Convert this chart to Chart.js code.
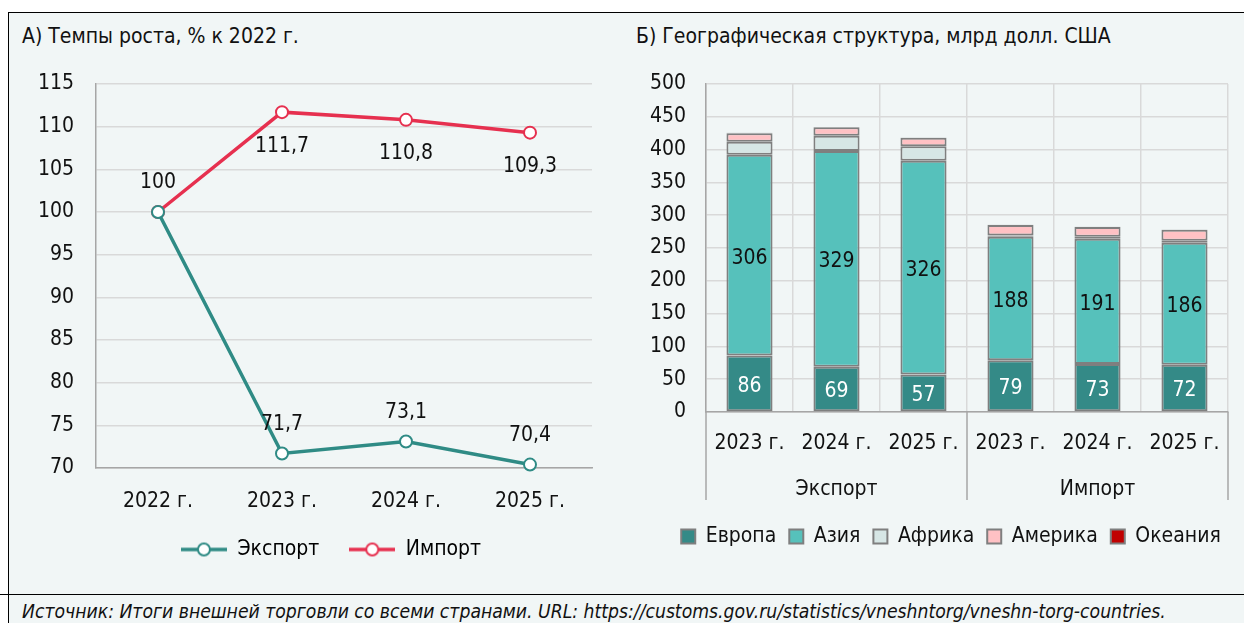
<!DOCTYPE html>
<html lang="ru">
<head>
<meta charset="utf-8">
<script src="https://cdn.jsdelivr.net/npm/chart.js@4.4.1/dist/chart.umd.min.js"></script>
<style>
  body { margin: 0; width: 1244px; height: 623px; overflow: hidden; background: #fff;
         font-family: 'Liberation Sans Narrow', 'Arial Narrow', 'DejaVu Sans Condensed', sans-serif; color: #111; }
  #frame { position: absolute; left: 8px; top: 12px; width: 1236px; height: 611px;
           border-top: 1px solid #000; border-left: 1px solid #000; background: #f1f6f6; }
  .title { position: absolute; top: 11px; font-size: 21px; white-space: nowrap; }
  #src { position: absolute; left: -9px; top: 581px; width: 1245px; height: 40px; border-top: 1px solid #000; }
  #src span { position: absolute; left: 22px; top: 5px; font-size: 19.2px; font-style: italic; white-space: nowrap; }
  canvas { position: absolute; }
</style>
</head>
<body>
<div id="frame">
  <div class="title" style="left:13px">А) Темпы роста, % к 2022 г.</div>
  <div class="title" style="left:627px">Б) Географическая структура, млрд долл. США</div>
  <div id="src"><span>Источник: Итоги внешней торговли со всеми странами. URL: https://customs.gov.ru/statistics/vneshntorg/vneshn-torg-countries.</span></div>
</div>
<canvas id="growthChart" width="600" height="530" style="left:10px;top:60px"></canvas>
<canvas id="geoChart" width="634" height="530" style="left:610px;top:60px"></canvas>
<script>
// А) темпы роста
const years = ["2022 г.", "2023 г.", "2024 г.", "2025 г."];
const exportGrowth = [100, 71.7, 73.1, 70.4];
const importGrowth = [100, 111.7, 110.8, 109.3];

// Б) географическая структура
const barYears = ["2023 г.", "2024 г.", "2025 г.", "2023 г.", "2024 г.", "2025 г."];
const flowGroups = ["Экспорт", "Импорт"];
const europe = [86, 69, 57, 79, 73, 72];
const asia = [306, 329, 326, 188, 191, 186];
const africa = [20, 23, 22, 2, 3, 3];
const america = [13, 13, 13, 16, 15, 17];
const oceania = [0.5, 0.5, 0.5, 0.3, 0.3, 0.3];

const FONT = "'Liberation Sans Narrow', 'Arial Narrow', 'DejaVu Sans Condensed', sans-serif";
Chart.defaults.font.family = FONT;
Chart.defaults.font.size = 21;
Chart.defaults.color = "#111";

const TEAL = "#2f8b85";
const RED = "#e6304f";
const GRID = "#d9d9d9";
const AXIS = "#a6a6a6";

const fmt = (v) => String(v).replace(".", ",");

// legend marker: line with hollow circle
function lineMarker(color) {
  const c = document.createElement("canvas");
  c.width = 46; c.height = 16;
  const g = c.getContext("2d");
  g.strokeStyle = color; g.lineWidth = 3.5;
  g.beginPath(); g.moveTo(0, 8); g.lineTo(46, 8); g.stroke();
  g.fillStyle = "#fff"; g.lineWidth = 2;
  g.beginPath(); g.arc(23, 8, 6, 0, Math.PI * 2); g.fill(); g.stroke();
  return c;
}

// value labels (line points and bar segments)
const valueLabels = {
  id: "valueLabels",
  afterDatasetsDraw(chart) {
    const ctx = chart.ctx;
    ctx.save();
    ctx.font = "21px " + FONT;
    ctx.textAlign = "center";
    ctx.textBaseline = "middle";
    chart.data.datasets.forEach((ds, i) => {
      if (!ds.labelColor) return;
      const meta = chart.getDatasetMeta(i);
      ctx.fillStyle = ds.labelColor;
      meta.data.forEach((el, j) => {
        const v = ds.data[j];
        if (chart.config.type === "line") {
          const pos = ds.labelPos[j];
          if (!pos) return;
          ctx.fillText(fmt(v), el.x, el.y + (pos === "above" ? -29 : 34));
        } else {
          ctx.fillText(fmt(v), el.x, (el.y + el.base) / 2 + 3);
        }
      });
    });
    ctx.restore();
  }
};

// shift legend horizontally
const legendShift = {
  id: "legendShift",
  afterLayout(chart, args, opts) {
    if (chart.legend && opts.dx) {
      chart.legend.left += opts.dx;
      chart.legend.right += opts.dx;
    }
  }
};

// second level of category axis: Экспорт / Импорт
const groupAxis = {
  id: "groupAxis",
  afterDraw(chart, args, opts) {
    const x = chart.scales.x;
    const ctx = chart.ctx;
    const bottom = chart.chartArea.bottom;
    const n = barYears.length;
    const per = n / flowGroups.length;
    const half = (x.getPixelForValue(1) - x.getPixelForValue(0)) / 2;
    ctx.save();
    ctx.strokeStyle = AXIS;
    ctx.lineWidth = 1.5;
    for (let g = 0; g <= flowGroups.length; g++) {
      const px = g * per < n ? x.getPixelForValue(g * per) - half : x.getPixelForValue(n - 1) + half;
      ctx.beginPath();
      ctx.moveTo(px, bottom);
      ctx.lineTo(px, bottom + opts.depth);
      ctx.stroke();
    }
    ctx.font = "21px " + FONT;
    ctx.fillStyle = "#111";
    ctx.textAlign = "center";
    ctx.textBaseline = "middle";
    flowGroups.forEach((name, g) => {
      const a = x.getPixelForValue(g * per);
      const b = x.getPixelForValue(g * per + per - 1);
      ctx.fillText(name, (a + b) / 2, bottom + opts.labelY);
    });
    ctx.restore();
  }
};

// fixed axis sizes, no extra label overhang padding
const fixY = (w) => (s) => { s.width = w; s.paddingTop = 0; s.paddingBottom = 0; };

new Chart(document.getElementById("growthChart"), {
  type: "line",
  data: {
    labels: years,
    datasets: [
      {
        label: "Экспорт",
        data: exportGrowth,
        borderColor: TEAL,
        pointBorderColor: TEAL,
        labelColor: "#111",
        labelPos: [null, "above", "above", "above"],
        marker: lineMarker(TEAL),
      },
      {
        label: "Импорт",
        data: importGrowth,
        borderColor: RED,
        pointBorderColor: RED,
        labelColor: "#111",
        labelPos: ["above", "below", "below", "below"],
        marker: lineMarker(RED),
      },
    ],
  },
  options: {
    responsive: false,
    animation: false,
    clip: false,
    layout: { padding: { top: 24, right: 18, bottom: 20, left: 0 } },
    elements: {
      line: { borderWidth: 3.5, tension: 0 },
      point: { radius: 6, borderWidth: 2, backgroundColor: "#fff", hoverRadius: 6 },
    },
    scales: {
      x: {
        offset: true,
        grid: { display: false, drawTicks: false, offset: true },
        border: { color: AXIS, width: 1.5 },
        ticks: { padding: 21 },
        afterFit: (s) => { s.height = 41; },
      },
      y: {
        min: 70,
        max: 115,
        ticks: { stepSize: 5, padding: 22 },
        grid: { color: GRID, lineWidth: 1.5, drawTicks: false },
        border: { color: AXIS, width: 1.5 },
        afterFit: fixY(86),
      },
    },
    plugins: {
      legend: {
        position: "bottom",
        labels: {
          usePointStyle: true,
          pointStyleWidth: 46,
          padding: 30,
          generateLabels: (chart) =>
            chart.data.datasets.map((ds, i) => ({
              text: ds.label,
              pointStyle: ds.marker,
              fillStyle: "#fff",
              strokeStyle: ds.borderColor,
              lineWidth: 0,
              datasetIndex: i,
            })),
        },
      },
      legendShift: { dx: 30 },
      tooltip: { enabled: false },
    },
  },
  plugins: [valueLabels, legendShift],
});

const barBase = { borderColor: "#7f7f7f", borderWidth: 2, borderSkipped: false };

new Chart(document.getElementById("geoChart"), {
  type: "bar",
  data: {
    labels: barYears,
    datasets: [
      { ...barBase, label: "Европа", data: europe, backgroundColor: "#348a87", labelColor: "#fff" },
      { ...barBase, label: "Азия", data: asia, backgroundColor: "#56c1bb", labelColor: "#111" },
      { ...barBase, label: "Африка", data: africa, backgroundColor: "#d6e6e5" },
      { ...barBase, label: "Америка", data: america, backgroundColor: "#ffc1c4" },
      { ...barBase, label: "Океания", data: oceania, backgroundColor: "#c00000" },
    ],
  },
  options: {
    responsive: false,
    animation: false,
    layout: { padding: { top: 24, right: 16, bottom: 33, left: 0 } },
    datasets: { bar: { categoryPercentage: 1, barPercentage: 0.53 } },
    scales: {
      x: {
        stacked: true,
        grid: { color: GRID, lineWidth: 1.5, drawTicks: false, offset: true },
        border: { color: AXIS, width: 1.5 },
        ticks: { padding: 19 },
        afterFit: (s) => { s.height = 101; },
      },
      y: {
        stacked: true,
        min: 0,
        max: 500,
        ticks: { stepSize: 50, padding: 20 },
        grid: { color: GRID, lineWidth: 1.5, drawTicks: false },
        border: { color: AXIS, width: 1.5 },
        afterFit: fixY(96),
      },
    },
    plugins: {
      legend: {
        position: "bottom",
        labels: { boxWidth: 14, boxHeight: 14, padding: 13 },
      },
      legendShift: { dx: 32 },
      groupAxis: { depth: 88, labelY: 78 },
      tooltip: { enabled: false },
    },
  },
  plugins: [valueLabels, legendShift, groupAxis],
});
</script>
</body>
</html>
